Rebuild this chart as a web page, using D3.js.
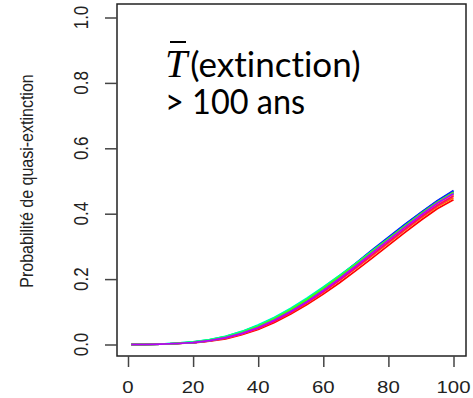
<!DOCTYPE html>
<html>
<head>
<meta charset="utf-8">
<script src="https://cdn.jsdelivr.net/npm/d3@7"></script>
<style>
  html, body { margin: 0; padding: 0; background: #fff; }
  svg { display: block; }
  text { font-variant-ligatures: none; font-feature-settings: "liga" 0, "clig" 0; }
</style>
</head>
<body>
<svg id="chart" width="473" height="398"></svg>
<script>
// Years at which each simulated trajectory is recorded
const years = [1, 5, 10, 15, 20, 25, 30, 35, 40, 45, 50, 55, 60, 65, 70, 75, 80, 85, 90, 95, 100];

// Cumulative quasi-extinction probability, one trajectory per parameter set
const run01 = [0, 0, 0.001, 0.003, 0.005, 0.010, 0.017, 0.030, 0.046, 0.067, 0.093, 0.122, 0.154, 0.189, 0.226, 0.264, 0.303, 0.342, 0.380, 0.415, 0.443];
const run02 = [0, 0, 0.001, 0.003, 0.006, 0.011, 0.019, 0.032, 0.049, 0.071, 0.097, 0.127, 0.160, 0.196, 0.233, 0.271, 0.310, 0.349, 0.387, 0.421, 0.449];
const run03 = [0, 0, 0.001, 0.003, 0.006, 0.012, 0.021, 0.034, 0.052, 0.075, 0.102, 0.131, 0.165, 0.202, 0.239, 0.277, 0.316, 0.355, 0.392, 0.428, 0.456];
const run04 = [0, 0, 0.001, 0.003, 0.007, 0.013, 0.023, 0.037, 0.055, 0.078, 0.105, 0.135, 0.169, 0.206, 0.244, 0.283, 0.322, 0.361, 0.398, 0.434, 0.464];
const run05 = [0, 0, 0.001, 0.003, 0.006, 0.012, 0.022, 0.036, 0.055, 0.079, 0.106, 0.137, 0.171, 0.207, 0.245, 0.284, 0.323, 0.362, 0.400, 0.435, 0.466];
const run06 = [0, 0, 0.001, 0.003, 0.007, 0.014, 0.024, 0.039, 0.058, 0.081, 0.108, 0.139, 0.173, 0.209, 0.246, 0.284, 0.322, 0.360, 0.398, 0.433, 0.462];
const run07 = [0, 0, 0.001, 0.004, 0.008, 0.014, 0.025, 0.040, 0.059, 0.082, 0.110, 0.141, 0.175, 0.211, 0.248, 0.286, 0.324, 0.362, 0.399, 0.434, 0.464];
const run08 = [0, 0, 0.001, 0.004, 0.008, 0.015, 0.025, 0.040, 0.060, 0.083, 0.111, 0.142, 0.176, 0.211, 0.248, 0.286, 0.323, 0.361, 0.398, 0.432, 0.461];
const run09 = [0, 0, 0.001, 0.003, 0.007, 0.013, 0.022, 0.036, 0.055, 0.078, 0.105, 0.136, 0.170, 0.208, 0.247, 0.287, 0.326, 0.365, 0.403, 0.438, 0.468];
const run10 = [0, 0, 0.001, 0.003, 0.006, 0.012, 0.021, 0.035, 0.054, 0.077, 0.104, 0.135, 0.171, 0.209, 0.249, 0.289, 0.328, 0.367, 0.404, 0.440, 0.471];
const run11 = [0, 0, 0.001, 0.003, 0.006, 0.012, 0.021, 0.035, 0.053, 0.076, 0.103, 0.134, 0.169, 0.207, 0.246, 0.286, 0.326, 0.365, 0.402, 0.438, 0.469];
const run12 = [0, 0, 0.001, 0.003, 0.006, 0.012, 0.021, 0.034, 0.052, 0.075, 0.101, 0.131, 0.165, 0.202, 0.240, 0.280, 0.319, 0.358, 0.396, 0.432, 0.462];
const run13 = [0, 0, 0.001, 0.003, 0.006, 0.011, 0.020, 0.033, 0.050, 0.073, 0.100, 0.130, 0.163, 0.199, 0.237, 0.276, 0.315, 0.354, 0.392, 0.428, 0.457];
const run14 = [0, 0, 0.001, 0.003, 0.006, 0.011, 0.020, 0.033, 0.050, 0.071, 0.098, 0.128, 0.161, 0.197, 0.235, 0.274, 0.313, 0.352, 0.390, 0.425, 0.454];
const runs = [run01, run02, run03, run04, run05, run06, run07, run08, run09, run10, run11, run12, run13, run14];

// Axis ticks
const xTicks = [0, 20, 40, 60, 80, 100];
const yTicks = [0, 0.2, 0.4, 0.6, 0.8, 1.0];
const yTitle = "Probabilité de quasi-extinction";

const svg = d3.select("#chart");

// Plot region
const box = { left: 117, right: 466, top: 4, bottom: 356 };
const x = d3.scaleLinear().domain([0, 100]).range([128, 453.5]);
const y = d3.scaleLinear().domain([0, 1]).range([344.5, 17.5]);

// Rainbow palette, one hue per trajectory
const colour = i => d3.hsl(360 * i / runs.length, 1, 0.5).toString();

const line = d3.line()
  .x((d, i) => x(years[i]))
  .y(d => y(d));

// Draw in an interleaved order so every hue shows through the bundle
const order = [0, 7, 3, 10, 1, 8, 5, 12, 2, 9, 6, 13, 4, 11];

svg.append("g")
  .selectAll("path")
  .data(order)
  .join("path")
  .attr("d", i => line(runs[i]))
  .attr("fill", "none")
  .attr("stroke", i => colour(i))
  .attr("stroke-width", 1.7);

// Frame
svg.append("rect")
  .attr("x", box.left)
  .attr("y", box.top)
  .attr("width", box.right - box.left)
  .attr("height", box.bottom - box.top)
  .attr("fill", "none")
  .attr("stroke", "#222")
  .attr("stroke-width", 1.5);

// Bottom axis: ticks hang from the frame
const xAxis = svg.append("g")
  .attr("transform", `translate(0,${box.bottom})`)
  .call(d3.axisBottom(x).tickValues(xTicks).tickSize(11).tickFormat(""));
xAxis.select(".domain").remove();
xAxis.selectAll("line").attr("stroke", "#444").attr("stroke-width", 1.5);

svg.append("g")
  .selectAll("text")
  .data(xTicks)
  .join("text")
  .attr("transform", d => `translate(${x(d)},393) scale(1.2,1)`)
  .attr("text-anchor", "middle")
  .attr("font-family", "Liberation Sans, Arial, sans-serif")
  .attr("font-size", 17)
  .attr("fill", "#222")
  .text(d => d);

// Left axis with rotated labels
const yAxis = svg.append("g")
  .attr("transform", `translate(${box.left},0)`)
  .call(d3.axisLeft(y).tickValues(yTicks).tickSize(12).tickFormat(""));
yAxis.select(".domain").remove();
yAxis.selectAll("line").attr("stroke", "#444").attr("stroke-width", 1.5);

svg.append("g")
  .selectAll("text")
  .data(yTicks)
  .join("text")
  .attr("transform", d => `translate(88,${y(d)}) scale(1.2,1) rotate(-90)`)
  .attr("text-anchor", "middle")
  .attr("font-family", "Liberation Sans, Arial, sans-serif")
  .attr("font-size", 17)
  .attr("fill", "#222")
  .text(d => d.toFixed(1));

// Y axis title
svg.append("text")
  .attr("transform", "translate(32.5,181) scale(1.17,1) rotate(-90)")
  .attr("text-anchor", "middle")
  .attr("font-family", "Liberation Sans, Arial, sans-serif")
  .attr("font-size", 16)
  .attr("fill", "#222")
  .text(yTitle);

// Annotation: mean time to extinction
const note = svg.append("g").attr("fill", "#000");
const first = note.append("text")
  .attr("x", 165)
  .attr("y", 77)
  .attr("font-family", "Lato, sans-serif")
  .attr("font-size", 35);
first.append("tspan")
  .attr("font-family", "Liberation Serif, serif")
  .attr("font-style", "italic")
  .attr("font-size", 40)
  .text("T");
first.append("tspan")
  .attr("dx", 3)
  .text("(extinction)");
note.append("line")
  .attr("x1", 170).attr("x2", 186)
  .attr("y1", 42).attr("y2", 42)
  .attr("stroke", "#000").attr("stroke-width", 2);
note.append("text")
  .attr("x", 165)
  .attr("y", 114)
  .attr("font-family", "Lato, sans-serif")
  .attr("font-size", 35)
  .attr("textLength", 140)
  .attr("lengthAdjust", "spacingAndGlyphs")
  .text("> 100 ans");
</script>
</body>
</html>
